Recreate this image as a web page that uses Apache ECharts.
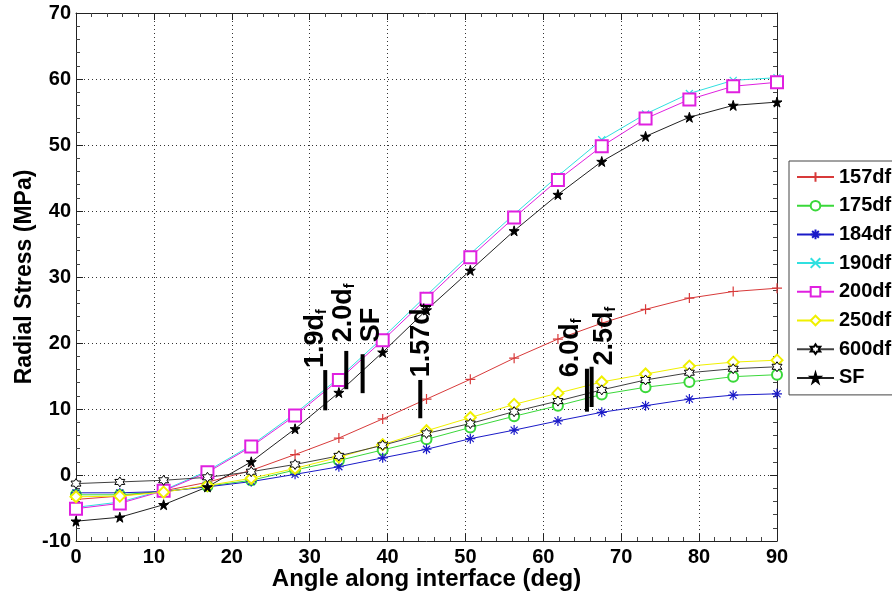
<!DOCTYPE html>
<html>
<head>
<meta charset="utf-8">
<script src="https://cdn.jsdelivr.net/npm/echarts@6/dist/echarts.min.js"></script>
<style>
  html, body { margin: 0; padding: 0; background: #fff; }
  #chart { width: 892px; height: 596px; }
</style>
</head>
<body>
<div id="chart"></div>
<script>
// Angle positions along the interface (deg)
const angles = [0, 5.625, 11.25, 16.875, 22.5, 28.125, 33.75, 39.375, 45,
                50.625, 56.25, 61.875, 67.5, 73.125, 78.75, 84.375, 90];

// Radial stress (MPa) for each case
const s157 = [-3.7, -3.2, -2.4, -1.1, 0.7, 3.1, 5.6, 8.5, 11.5, 14.5, 17.7, 20.6, 23.0, 25.1, 26.8, 27.8, 28.3];
const s175 = [-3.0, -3.0, -2.5, -1.7, -0.8, 0.75, 2.2, 3.8, 5.4, 7.2, 8.9, 10.5, 12.2, 13.3, 14.1, 14.9, 15.2];
const s184 = [-2.7, -2.7, -2.5, -1.8, -1.0, 0.1, 1.25, 2.6, 3.9, 5.5, 6.8, 8.2, 9.5, 10.5, 11.5, 12.1, 12.3];
const s190 = [-4.9, -4.1, -2.3, 0.6, 4.5, 9.3, 14.7, 20.8, 27.2, 33.5, 39.5, 45.3, 50.8, 54.7, 57.8, 59.8, 60.2];
const s200 = [-5.1, -4.3, -2.4, 0.4, 4.3, 9.0, 14.4, 20.4, 26.7, 33.0, 39.0, 44.7, 49.8, 54.0, 56.9, 58.9, 59.5];
const s250 = [-3.3, -3.2, -2.6, -1.6, -0.5, 1.0, 2.7, 4.6, 6.7, 8.7, 10.7, 12.4, 14.1, 15.3, 16.5, 17.1, 17.4];
const s600 = [-1.3, -1.05, -0.8, -0.35, 0.5, 1.6, 2.9, 4.5, 6.3, 7.8, 9.6, 11.2, 12.9, 14.4, 15.5, 16.1, 16.4];
const sSF  = [-7.0, -6.4, -4.5, -1.8, 2.0, 7.0, 12.5, 18.6, 25.0, 31.0, 37.0, 42.5, 47.5, 51.3, 54.2, 56.0, 56.5];

const seriesNames = ['157df', '175df', '184df', '190df', '200df', '250df', '600df', 'SF'];

// Axis ticks
const xTicks = { min: 0, max: 90, step: 10 };
const yTicks = { min: -10, max: 70, step: 10 };

// Marker bars: angle, lower and upper stress, text anchor, text
const noteAngle = [32.0, 34.7, 36.8, 44.2, 65.6, 66.2];
const noteLow = [9.8, 13.0, 12.4, 8.6, 9.6, 10.3];
const noteHigh = [15.9, 18.8, 18.3, 14.4, 16.1, 16.4];
const noteTextAngle = [30.8, 34.4, 38.0, 44.3, 63.5, 67.9];
const noteTextStress = [16.2, 20.1, 20.1, 14.8, 14.8, 16.6];
const noteMain = ['1.9d', '2.0d', 'SF', '1.57d', '6.0d', '2.5d'];
const noteSub = ['f', 'f', '', 'f', 'f', 'f'];

const FONT = 'Liberation Sans, Arial, Helvetica, sans-serif';

const plusPath = 'path://M5,0L5,10M0,5L10,5';
const crossPath = 'path://M0,0L10,10M0,10L10,0';
const asteriskPath = 'path://M5,0L5,10M0,5L10,5M1.5,1.5L8.5,8.5M1.5,8.5L8.5,1.5';
const starPath = 'path://M50,0L61,35L98,35L68,57L79,91L50,70L21,91L32,57L2,35L39,35Z';
const hexPath = 'path://M50,0L64.4,25L93.3,25L78.9,50L93.3,75L64.4,75L50,100L35.6,75L6.7,75L21.1,50L6.7,25L35.6,25Z';

function pair(vals) { return angles.map((a, i) => [a, vals[i]]); }

function lineSeries(name, vals, color, symbol, size, itemStyle) {
  return {
    name: name,
    type: 'line',
    data: pair(vals),
    symbol: symbol,
    symbolSize: size,
    showAllSymbol: true,
    lineStyle: { color: color, width: 1 },
    itemStyle: Object.assign({ color: color, borderColor: color, borderWidth: 1 }, itemStyle || {}),
    emphasis: { disabled: true },
    animation: false,
    z: 3
  };
}

const chart = echarts.init(document.getElementById('chart'), null, { renderer: 'canvas' });

const axisLabelStyle = { fontSize: 20, fontWeight: 'bold', color: '#000', fontFamily: FONT };

const option = {
  backgroundColor: '#fff',
  animation: false,
  grid: { left: 76, right: 115, top: 13, bottom: 54, containLabel: false },
  legend: {
    orient: 'vertical',
    left: 789,
    top: 161,
    itemWidth: 37,
    itemHeight: 12,
    itemGap: 8.7,
    padding: [6, 12, 7, 7],
    borderColor: '#444',
    borderWidth: 1,
    backgroundColor: '#fff',
    textStyle: { fontSize: 20, fontWeight: 'bold', color: '#000', fontFamily: FONT, lineHeight: 20 },
    data: seriesNames,
    selectedMode: false
  },
  xAxis: [{
    type: 'value',
    min: xTicks.min, max: xTicks.max, interval: xTicks.step,
    name: 'Angle along interface (deg)',
    nameLocation: 'middle',
    nameGap: 26,
    nameMoveOverlap: false,
    nameTextStyle: { fontSize: 24, fontWeight: 'bold', color: '#000', fontFamily: FONT },
    axisLine: { show: true, onZero: false, lineStyle: { color: '#222', width: 1 } },
    axisTick: { show: true, inside: true, length: 7, lineStyle: { color: '#222' } },
    minorTick: { show: true, splitNumber: 5, length: 4, lineStyle: { color: '#444' } },
    axisLabel: Object.assign({ margin: 6 }, axisLabelStyle),
    splitLine: { show: true, lineStyle: { color: '#333', type: [1, 3], width: 1 } }
  }, {
    type: 'value', position: 'top',
    min: xTicks.min, max: xTicks.max, interval: xTicks.step,
    axisLine: { show: true, onZero: false, lineStyle: { color: '#222', width: 1 } },
    axisTick: { show: true, inside: true, length: 7, lineStyle: { color: '#222' } },
    minorTick: { show: true, splitNumber: 5, length: 4, lineStyle: { color: '#444' } },
    axisLabel: { show: false },
    splitLine: { show: false }
  }],
  yAxis: [{
    type: 'value',
    min: yTicks.min, max: yTicks.max, interval: yTicks.step,
    name: 'Radial Stress (MPa)',
    nameLocation: 'middle',
    nameGap: 40,
    nameMoveOverlap: false,
    nameTextStyle: { fontSize: 23, fontWeight: 'bold', color: '#000', fontFamily: FONT },
    axisLine: { show: true, onZero: false, lineStyle: { color: '#222', width: 1 } },
    axisTick: { show: true, inside: true, length: 7, lineStyle: { color: '#222' } },
    minorTick: { show: true, splitNumber: 5, length: 4, lineStyle: { color: '#444' } },
    axisLabel: Object.assign({ margin: 5 }, axisLabelStyle),
    splitLine: { show: true, lineStyle: { color: '#333', type: [1, 3], width: 1 } }
  }, {
    type: 'value', position: 'right',
    min: yTicks.min, max: yTicks.max, interval: yTicks.step,
    axisLine: { show: true, onZero: false, lineStyle: { color: '#222', width: 1 } },
    axisTick: { show: true, inside: true, length: 7, lineStyle: { color: '#222' } },
    minorTick: { show: true, splitNumber: 5, length: 4, lineStyle: { color: '#444' } },
    axisLabel: { show: false },
    splitLine: { show: false }
  }],
  series: [
    lineSeries('157df', s157, '#d83a3a', plusPath, 10, { borderWidth: 1.2 }),
    lineSeries('175df', s175, '#3ad83a', 'emptyCircle', 10),
    lineSeries('184df', s184, '#1a1ac8', asteriskPath, 10, { borderWidth: 1.2 }),
    lineSeries('190df', s190, '#30e0e0', crossPath, 7, { borderWidth: 1.2 }),
    lineSeries('200df', s200, '#e020e0', 'emptyRect', 12),
    lineSeries('250df', s250, '#f0f000', 'emptyDiamond', 11),
    lineSeries('600df', s600, '#404040', hexPath, 10, { color: '#fff', borderColor: '#000' }),
    lineSeries('SF', sSF, '#222', starPath, 10, { color: '#000', borderColor: '#000' }),
    {
      name: 'notes',
      type: 'custom',
      clip: false,
      z: 10,
      silent: true,
      animation: false,
      data: noteAngle.map((a, i) => [a, noteLow[i], noteHigh[i], noteTextAngle[i], noteTextStress[i]]),
      encode: { x: 0, y: [1, 2] },
      renderItem: function (params, api) {
        const i = params.dataIndex;
        const top = api.coord([api.value(0), api.value(2)]);
        const bot = api.coord([api.value(0), api.value(1)]);
        const t = api.coord([api.value(3), api.value(4)]);
        const txt = '{n|' + noteMain[i] + '}' + (noteSub[i] ? '{s|' + noteSub[i] + '}' : '');
        return {
          type: 'group',
          children: [{
            type: 'rect',
            shape: { x: top[0] - 2, y: top[1], width: 4, height: bot[1] - top[1] },
            style: { fill: '#000' }
          }, {
            type: 'text',
            x: t[0], y: t[1],
            rotation: Math.PI / 2,
            style: {
              text: txt,
              align: 'left',
              verticalAlign: 'middle',
              fill: '#000',
              rich: {
                n: { fontSize: 27, fontWeight: 'bold', fontFamily: FONT, lineHeight: 27, fill: '#000' },
                s: { fontSize: 14, fontWeight: 'bold', fontFamily: FONT, lineHeight: 2, verticalAlign: 'bottom', fill: '#000' }
              }
            }
          }]
        };
      }
    }
  ]
};

chart.setOption(option);
</script>
</body>
</html>
